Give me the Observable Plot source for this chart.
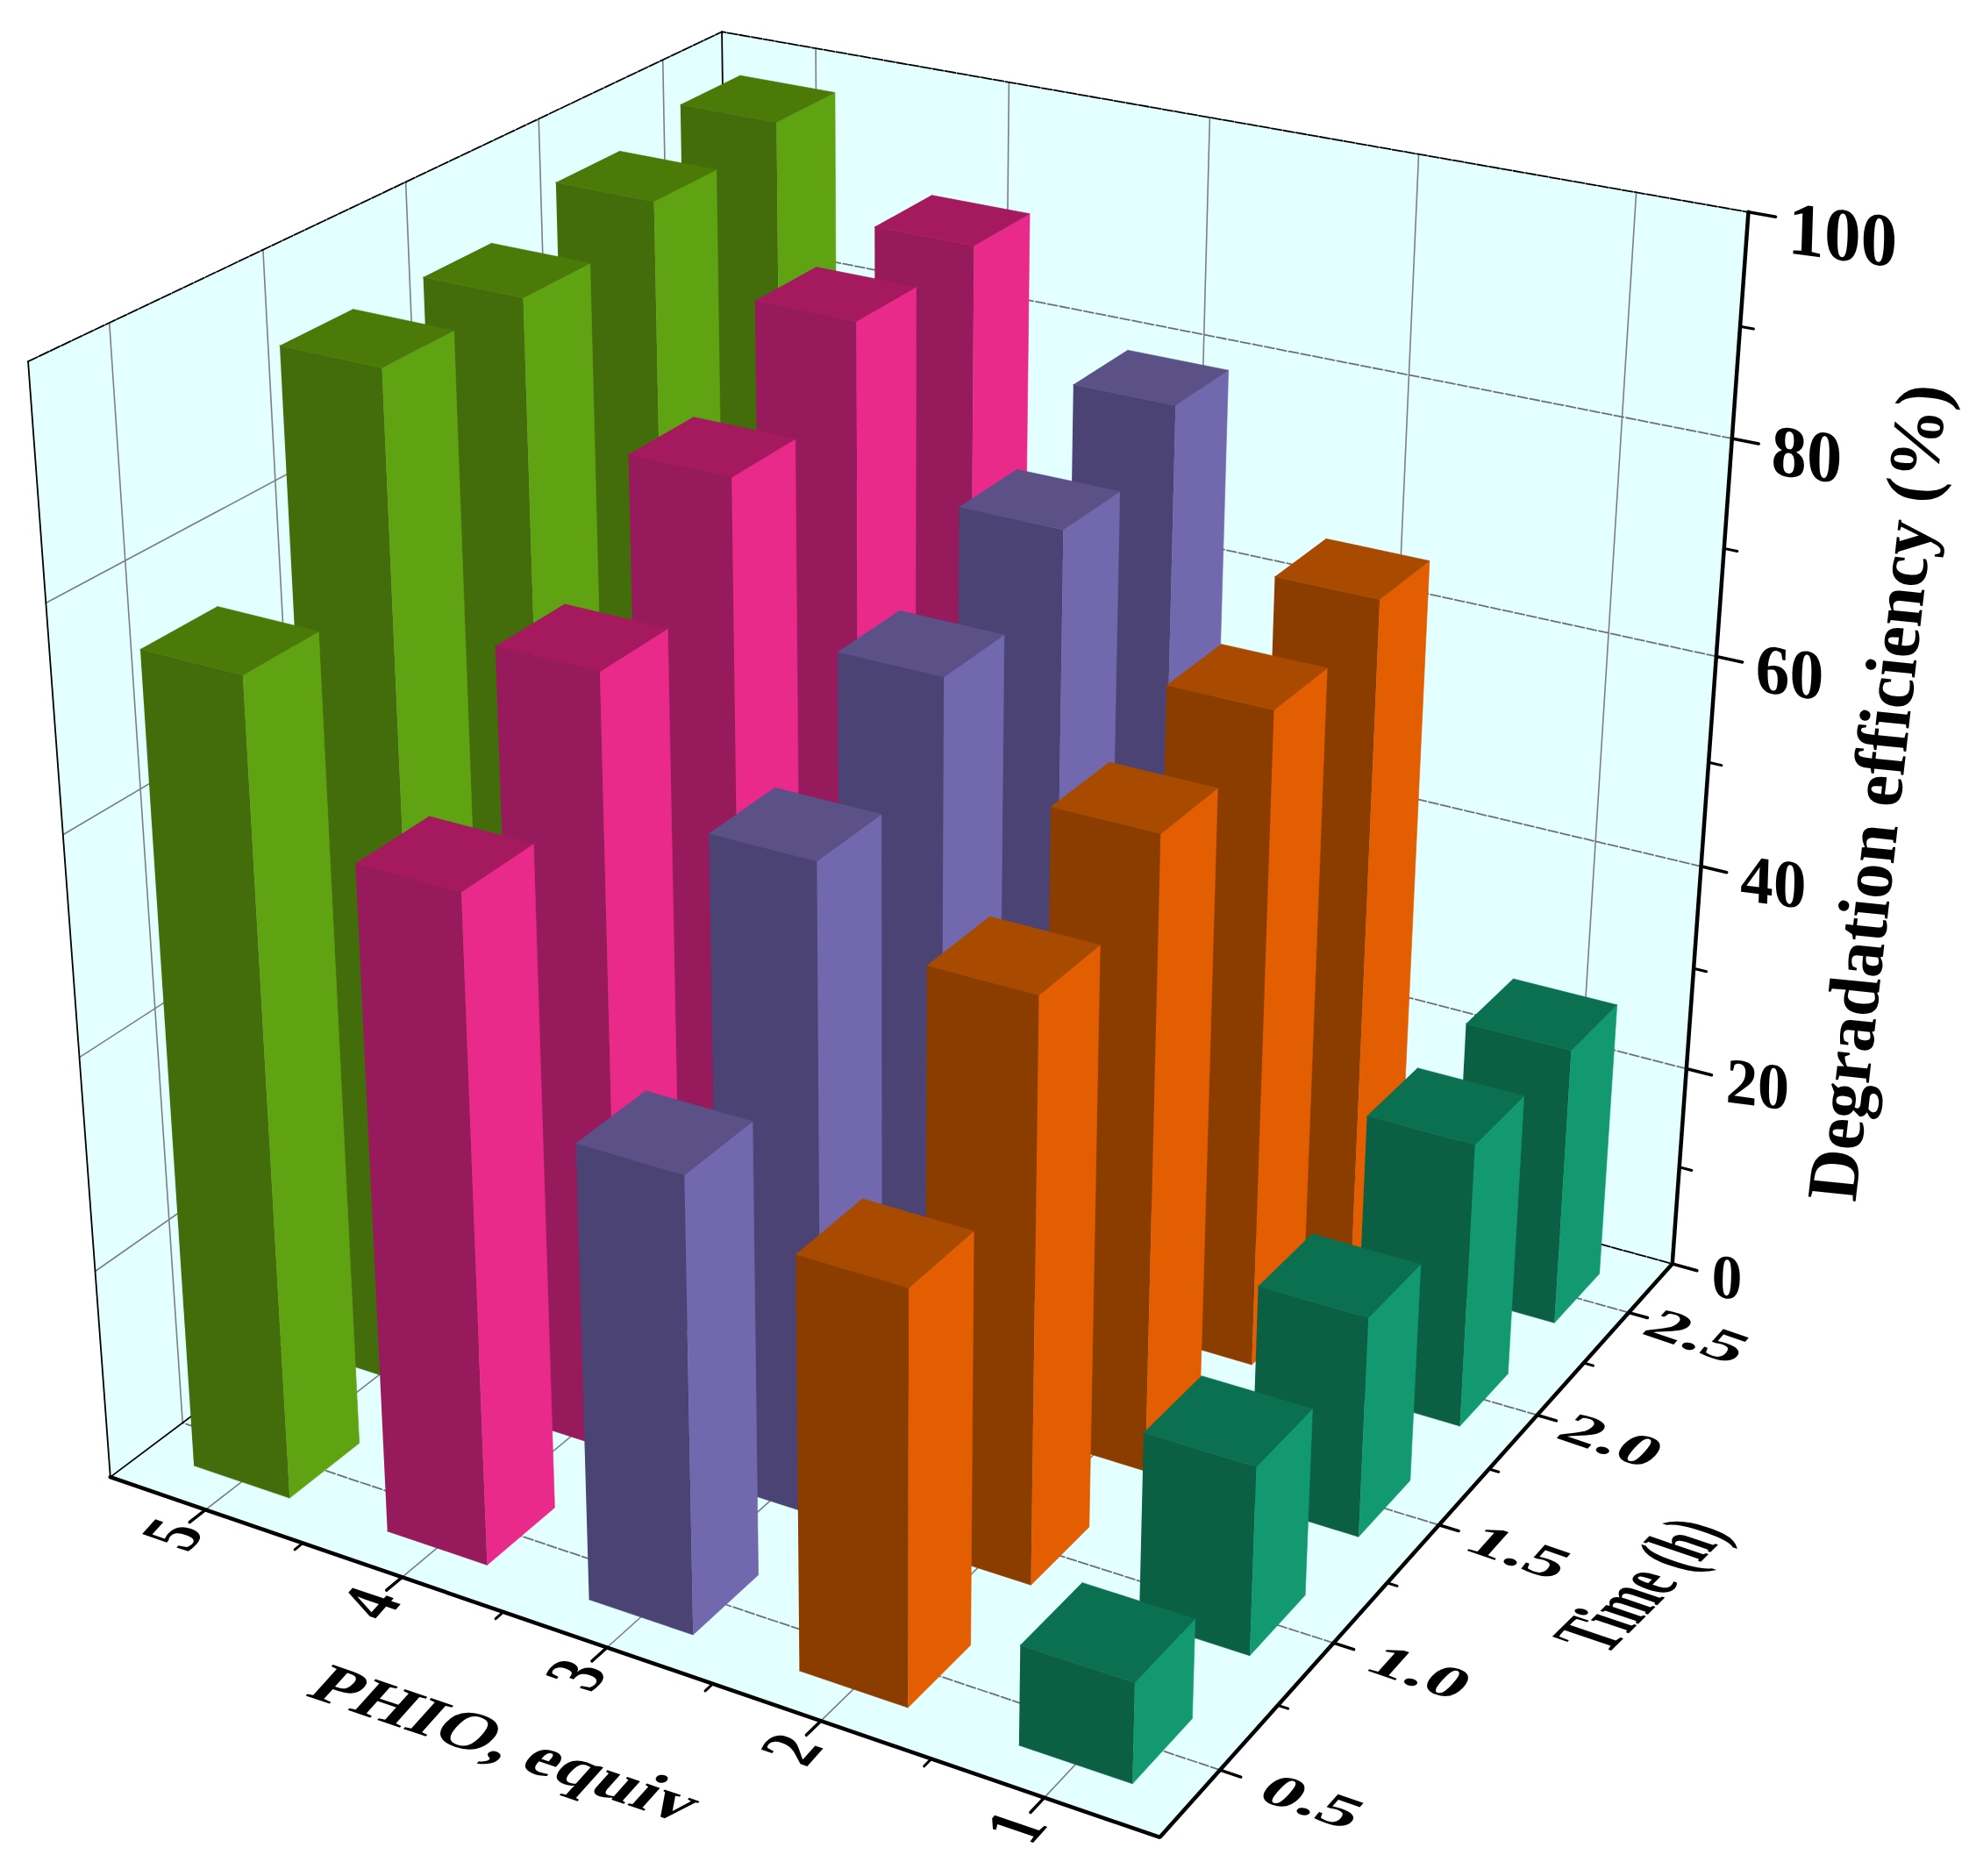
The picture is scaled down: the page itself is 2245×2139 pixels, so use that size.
<!doctype html>
<html><head><meta charset="utf-8">
<script src="https://cdn.jsdelivr.net/npm/d3@7"></script>
<script src="https://cdn.jsdelivr.net/npm/@observablehq/plot@0.6"></script>
<style>html,body{margin:0;background:#fff}svg{display:block}</style></head><body><div id="c"></div>
<script>
// ---- data ----
const phio = [5, 4, 3, 2, 1];
const times = [0.5, 1.0, 1.5, 2.0, 2.5];
const eff5 = [75.3, 94.3, 94.0, 96.5, 98.0];
const eff4 = [61.5, 72.5, 82.2, 89.4, 90.1];
const eff3 = [42.2, 60.7, 68.9, 74.7, 79.2];
const eff2 = [38.1, 54.1, 59.7, 62.8, 65.4];
const eff1 = [9.3, 17.7, 21.0, 27.5, 27.3];
const zTicks = [0, 20, 40, 60, 80, 100];
const zMinor = [10, 30, 50, 70, 90];
const uMinor = [5.5, 4.5, 3.5, 2.5, 1.5];
const tMinor = [0.75, 1.25, 1.75, 2.25];
const rightCols = ["#5fa313", "#e92a8b", "#7268ad", "#e25e00", "#12996f"];
const frontCols = ["#436d0b", "#961a5c", "#4a4373", "#8b3d00", "#0b5f42"];
const topCols = ["#4b7a08", "#a5195f", "#5b5187", "#a84b00", "#0b7050"];
const effs = [eff5, eff4, eff3, eff2, eff1];

// ---- perspective camera fitted to the box's reference corners ----
function solve(A,b){const n=A.length;const M=A.map((r,i)=>[...r,b[i]]);for(let i=0;i<n;i++){let p=i;for(let j=i+1;j<n;j++)if(Math.abs(M[j][i])>Math.abs(M[p][i]))p=j;[M[i],M[p]]=[M[p],M[i]];for(let j=0;j<n;j++){if(j==i)continue;const f=M[j][i]/M[i][i];for(let k=i;k<=n;k++)M[j][k]-=f*M[i][k];}}return M.map((r,i)=>r[n]/r[i]);}
const cal=[[5.5,.25,0,121,1685],[.5,.25,0,1322,2093],[.5,2.75,0,1906,1441],[.5,2.75,100,1995,241],[5.5,.25,100,31,412],[5.5,2.75,100,823,36],[.5,2.75,80,1973,500],[.5,2.75,60,1956,748],[.5,2.75,40,1938,986],[.5,2.75,20,1921,1217],[5,.25,0,236,1720],[4,.25,0,462,1797],[3,.25,0,692,1877],[2,.25,0,934,1960],[1,.25,0,1189,2052],[.5,.5,0,1390,2017],[.5,1,0,1521,1874],[.5,1.5,0,1642,1739],[.5,2,0,1750,1614],[.5,2.5,0,1859,1496]];
const rows=[],rhs=[];for(const [u,t,z,x,y] of cal){const U=(5.5-u)/5,T=(t-.25)/2.5,Z=z/100;rows.push([U,T,Z,1,0,0,0,0,-x*U,-x*T,-x*Z]);rhs.push(x);rows.push([0,0,0,0,U,T,Z,1,-y*U,-y*T,-y*Z]);rhs.push(y);}
const N=d3.range(11).map(i=>d3.range(11).map(j=>d3.sum(rows,r=>r[i]*r[j])));
const B=d3.range(11).map(i=>d3.sum(rows,(r,k)=>r[i]*rhs[k]));
const m=solve(N,B);
function P(u,t,z){const U=(5.5-u)/5,T=(t-.25)/2.5,Z=z/100;const w=m[8]*U+m[9]*T+m[10]*Z+1;return [(m[0]*U+m[1]*T+m[2]*Z+m[3])/w,(m[4]*U+m[5]*T+m[6]*Z+m[7])/w];}

// ---- polygons & lines built from the values through the camera ----
const du=.25, dt=.125;
const polys=[];let pid=0;
function poly(pts,color){const id=pid++;for(const [u,t,z] of pts){const [x,y]=P(u,t,z);polys.push({id,x,y,color});}}
const wall="#e3ffff";
poly([[5.5,.25,0],[.5,.25,0],[.5,2.75,0],[5.5,2.75,0]],wall);
poly([[5.5,.25,0],[5.5,2.75,0],[5.5,2.75,100],[5.5,.25,100]],wall);
poly([[5.5,2.75,0],[.5,2.75,0],[.5,2.75,100],[5.5,2.75,100]],wall);
phio.forEach((u,i)=>{for(let j=times.length-1;j>=0;j--){const t=times[j],v=effs[i][j];
  const a=u+du,b=u-du,c=t-dt,d=t+dt;
  poly([[a,c,0],[b,c,0],[b,c,v],[a,c,v]],frontCols[i]);
  poly([[b,c,0],[b,d,0],[b,d,v],[b,c,v]],rightCols[i]);
  poly([[a,c,v],[b,c,v],[b,d,v],[a,d,v]],topCols[i]);
}});
function segs(list){let id=0;const out=[];for(const s of list){for(const [u,t,z] of s){const [x,y]=P(u,t,z);out.push({id,x,y});}id++;}return out;}
const zInner=zTicks.filter(z=>z>0&&z<100);
const gridSolid=segs([
 ...phio.flatMap(u=>[[[u,.25,0],[u,2.75,0]],[[u,2.75,0],[u,2.75,100]]]),
 ...times.map(t=>[[5.5,t,0],[5.5,t,100]]),
 ...zInner.map(z=>[[5.5,2.75,z],[5.5,.25,z]])
]);
const gridDashed=segs([
 ...times.map(t=>[[.5,t,0],[5.5,t,0]]),
 ...zInner.map(z=>[[.5,2.75,z],[5.5,2.75,z]])
]);
const thin=segs([
 [[5.5,.25,0],[5.5,.25,100]],
 [[5.5,2.75,0],[5.5,2.75,100]],
 [[5.5,.25,0],[5.5,2.75,0]]
]);
const thinDashed=segs([
 [[5.5,.25,100],[5.5,2.75,100],[.5,2.75,100]],
 [[5.5,2.75,0],[.5,2.75,0]]
]);
const thick=segs([[[5.5,.25,0],[.5,.25,0],[.5,2.75,0],[.5,2.75,100]]]);
const majorTicks=segs([
 ...zTicks.map(z=>[[.5,2.75,z],[.38,2.75,z]]),
 ...times.map(t=>[[.5,t,0],[.41,t,0]]),
 ...phio.map(u=>[[u,.25,0],[u,.195,0]])
]);
const minorTicks=segs([
 ...zMinor.map(z=>[[.5,2.75,z],[.44,2.75,z]]),
 ...tMinor.map(t=>[[.5,t,0],[.455,t,0]]),
 ...uMinor.slice(1).map(u=>[[u,.25,0],[u,.222,0]])
]);

// ---- text placed through the camera, sheared into the box's planes ----
const uDir=[.947,.322], tDir=[.667,-.745], tBack=[-.667,.745];
function lab(text,xy,sx,sy,dir,down){return {text,x:xy[0],y:xy[1],sx,sy,dir,down};}
const zDir=[.99,.13], zDown=[-.03,1];
const zTexts=zTicks.map((z,i)=>{const p=P(.5,2.75,z);return lab(String(z),[p[0]+45,p[1]+(i==5?19:14)],.7+i*.028,.71+i*.03,zDir,zDown);});
const uTexts=phio.map(u=>lab(String(u),P(u,.25-.11,0),.66,.88,tDir,uDir));
const tTexts=times.map((t,i)=>{const p=P(.5-.41,t,0);return lab(t.toFixed(1),[p[0]-4-i*4,p[1]],.9,.58,uDir,tBack);});
const titles=[
 lab("PHIO, equiv",[576,1988],.84,.72,uDir,tBack),
 lab("Time (h)",[1871,1807],.54,1.0,[.71,-.704],uDir),
 lab("Degradation efficiency (%)",[2141,903],.81,.83,[.112,-.994],[.99,.1])
];
const allTexts=[...zTexts,...uTexts,...tTexts,...titles];

const plot=Plot.plot({width:2245,height:2139,margin:0,
 style:{background:"#fff",fontFamily:"'Liberation Serif',serif"},
 x:{domain:[0,2245],range:[0,2245],axis:null},
 y:{domain:[0,2139],range:[0,2139],axis:null},
 color:{type:"identity"},
 marks:[
  Plot.line(polys.slice(0,12),{x:"x",y:"y",z:"id",fill:"color",stroke:"none"}),
  Plot.line(gridSolid,{x:"x",y:"y",z:"id",stroke:"#7d7d88",strokeWidth:1.6}),
  Plot.line(gridDashed,{x:"x",y:"y",z:"id",stroke:"#6f6f78",strokeWidth:1.8,strokeDasharray:"11 3"}),
  Plot.line(thin,{x:"x",y:"y",z:"id",stroke:"#000",strokeWidth:1.8}),
  Plot.line(thinDashed,{x:"x",y:"y",z:"id",stroke:"#000",strokeWidth:1.8,strokeDasharray:"12 2"}),
  Plot.line(polys.slice(12),{x:"x",y:"y",z:"id",fill:"color",stroke:"color",strokeWidth:.6}),
  Plot.line(thick,{x:"x",y:"y",z:"id",stroke:"#000",strokeWidth:4.5,strokeLinejoin:"miter"}),
  Plot.line(majorTicks,{x:"x",y:"y",z:"id",stroke:"#000",strokeWidth:3.5}),
  Plot.line(minorTicks,{x:"x",y:"y",z:"id",stroke:"#000",strokeWidth:3}),
  Plot.text(allTexts,{x:"x",y:"y",text:"text",fontSize:100,fontWeight:"bold",fill:"#000",rotate:0.001,lineAnchor:"middle",textAnchor:"middle",className:"sheared"})
 ]});
plot.querySelectorAll(".sheared text").forEach((el,i)=>{const d=allTexts[i];
 el.setAttribute("transform",el.getAttribute("transform")+` matrix(${d.sx*d.dir[0]},${d.sx*d.dir[1]},${d.sy*d.down[0]},${d.sy*d.down[1]},0,0)`);
 if(i<zTexts.length) el.setAttribute("text-anchor","start");
});
document.getElementById("c").append(plot);
</script></body></html>
